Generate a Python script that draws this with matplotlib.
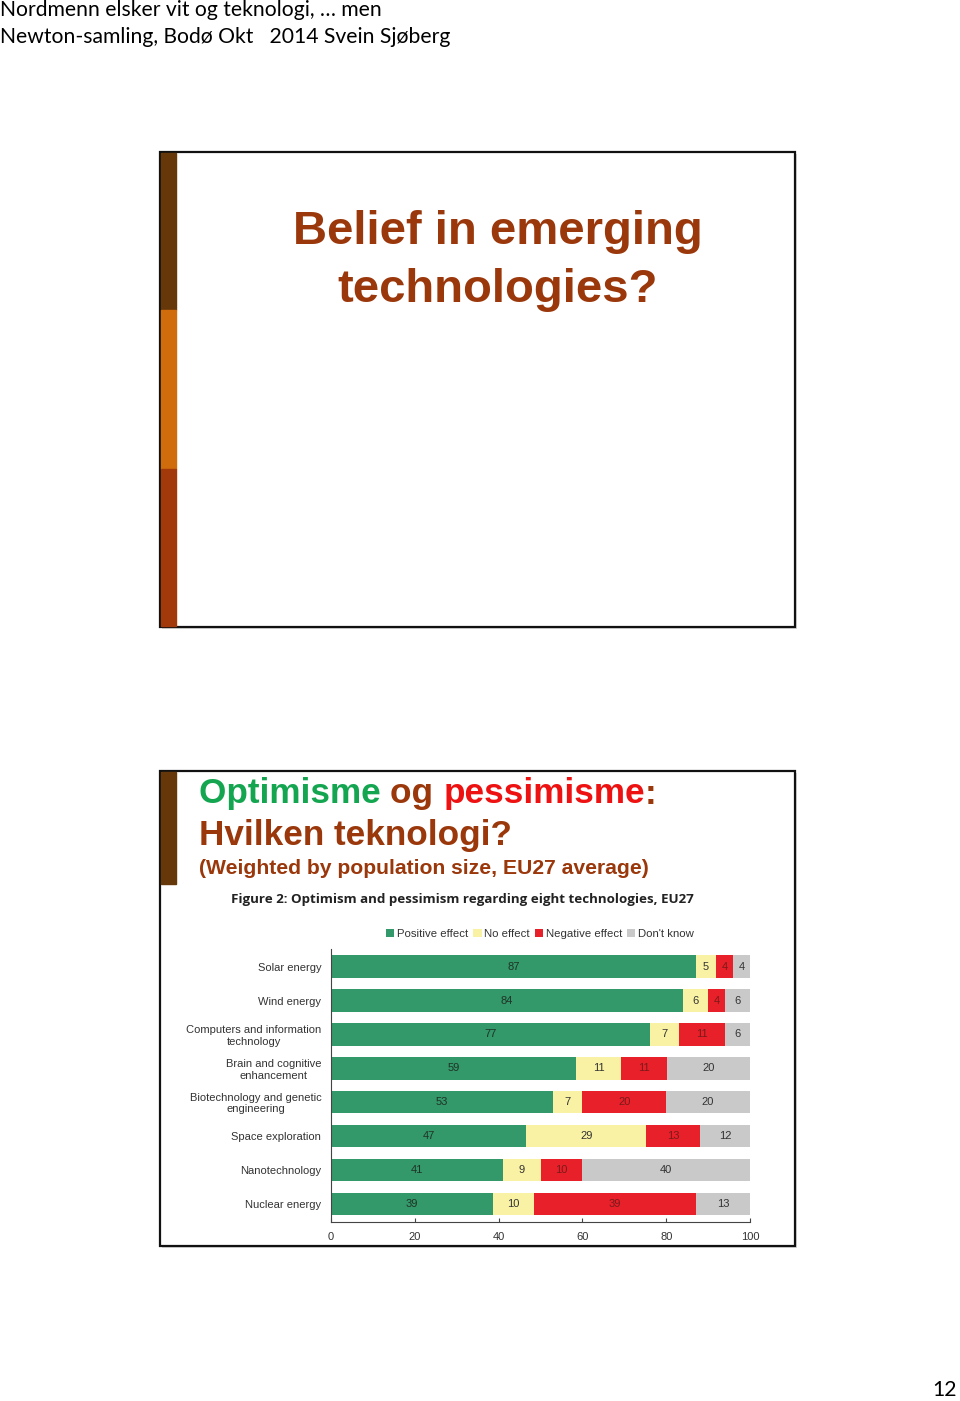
import matplotlib
matplotlib.use("Agg")
import matplotlib.pyplot as plt
from matplotlib.patches import Rectangle, Patch
import numpy as np

# Data
technologies = [
    "Solar energy",
    "Wind energy",
    "Computers and information\ntechnology",
    "Brain and cognitive\nenhancement",
    "Biotechnology and genetic\nengineering",
    "Space exploration",
    "Nanotechnology",
    "Nuclear energy",
]
positive = [87, 84, 77, 59, 53, 47, 41, 39]
no_effect = [5, 6, 7, 11, 7, 29, 9, 10]
negative = [4, 4, 11, 11, 20, 13, 10, 39]
dont_know = [4, 6, 6, 20, 20, 12, 40, 13]
series_names = ["Positive effect", "No effect", "Negative effect", "Don't know"]
x_ticks = [0, 20, 40, 60, 80, 100]

header_lines = ["Nordmenn elsker vit og teknologi, \u2026 men",
                "Newton-samling, Bod\u00f8 Okt   2014 Svein Sj\u00f8berg"]
page_number = "12"

# Colours
GREEN = "#33996a"
YELLOW = "#f9f2a4"
RED = "#e8202a"
GREY = "#c9c9c9"
TITLE_BROWN = "#9a370b"
BAR_DARK = "#653709"
BAR_ORANGE = "#d06c0c"
BAR_RUST = "#a2390b"

W, H = 960, 1401
fig = plt.figure(figsize=(W / 100, H / 100), dpi=100)
fig.patch.set_facecolor("white")

# Page overlay in pixel coordinates
page = fig.add_axes([0, 0, 1, 1])
page.set_xlim(0, W)
page.set_ylim(H, 0)
page.axis("off")

# header text
page.text(0, 10, header_lines[0], fontsize=15.2, family="Lato",
          ha="left", va="center", color="black")
page.text(0, 37, header_lines[1], fontsize=15.2, family="Lato",
          ha="left", va="center", color="black")
page.text(957, 1390, page_number, fontsize=15.2, family="Lato",
          ha="right", va="center", color="black")

# slide frames
for top in (152, 771):
    page.add_patch(Rectangle((162, top + 2), 635, 475, facecolor="#d8d8d8",
                             edgecolor="none", zorder=1))
    page.add_patch(Rectangle((160, top), 635, 475, facecolor="white",
                             edgecolor="#111111", linewidth=1.6, zorder=2))

# slide 1 side bar
page.add_patch(Rectangle((161, 153), 15, 157, color=BAR_DARK, zorder=3))
page.add_patch(Rectangle((161, 310), 15, 159, color=BAR_ORANGE, zorder=3))
page.add_patch(Rectangle((161, 469), 15, 157, color=BAR_RUST, zorder=3))

# slide 2 side bar
page.add_patch(Rectangle((161, 772), 15, 112, color=BAR_DARK, zorder=3))

# slide 1 title
page.text(498, 232, "Belief in emerging", fontsize=34, fontweight="bold",
          family="Liberation Sans", color=TITLE_BROWN, ha="center",
          va="center", zorder=4)
page.text(498, 290, "technologies?", fontsize=34, fontweight="bold",
          family="Liberation Sans", color=TITLE_BROWN, ha="center",
          va="center", zorder=4)

# slide 2 title, multi-coloured first line
renderer = fig.canvas.get_renderer()
x_pos = 199
for word, col in [("Optimisme ", "#14a550"), ("og ", TITLE_BROWN),
                  ("pessimisme", "#ee1111"), (":", TITLE_BROWN)]:
    t = page.text(x_pos, 794, word, fontsize=25.3, fontweight="bold",
                  family="Liberation Sans", color=col, ha="left",
                  va="center", zorder=4)
    bb = t.get_window_extent(renderer=renderer)
    x_pos += bb.width
page.text(199, 836, "Hvilken teknologi?", fontsize=25.3, fontweight="bold",
          family="Liberation Sans", color=TITLE_BROWN, ha="left",
          va="center", zorder=4)
page.text(199, 869, "(Weighted by population size, EU27 average)",
          fontsize=15.2, fontweight="bold", family="Liberation Sans",
          color=TITLE_BROWN, ha="left", va="center", zorder=4)

page.text(231, 900, "Figure 2: Optimism and pessimism regarding eight technologies, EU27",
          fontsize=9.6, fontweight="bold", family="Open Sans",
          color="#222222", ha="left", va="center", zorder=4)

# Bar chart
ax = fig.add_axes([331 / W, 1 - 1222 / H, 419 / W, 273 / H])
ax.set_zorder(5)
ax.patch.set_alpha(0)

values = np.array([positive, no_effect, negative, dont_know], dtype=float)
totals = values.sum(axis=0)
shares = values / totals * 100
colors = [GREEN, YELLOW, RED, GREY]
text_colors = ["#1f3326", "#333333", "#7a1a1a", "#333333"]

y = np.arange(len(technologies))
left = np.zeros(len(technologies))
for i in range(4):
    ax.barh(y, shares[i], left=left, height=0.66, color=colors[i],
            edgecolor="none", label=series_names[i])
    for j in range(len(technologies)):
        ax.text(left[j] + shares[i][j] / 2, y[j], f"{int(values[i][j])}",
                ha="center", va="center", fontsize=8,
                family="Liberation Sans", color=text_colors[i])
    left += shares[i]

ax.set_xlim(0, 100)
ax.set_ylim(len(technologies) - 0.47, -0.52)
ax.set_xticks(x_ticks)
ax.set_xticklabels([str(v) for v in x_ticks], fontsize=8,
                   family="Liberation Sans", color="#333333")
ax.set_yticks(y)
ax.set_yticklabels(technologies, fontsize=8, family="Liberation Sans",
                   color="#333333")
for lbl in ax.get_yticklabels():
    lbl.set_multialignment("center")
    lbl.set_linespacing(1.15)
ax.tick_params(axis="y", length=0, pad=7)
ax.tick_params(axis="x", direction="in", length=3, width=0.8,
               color="#444444", pad=7.5)
for side in ["top", "right"]:
    ax.spines[side].set_visible(False)
for side in ["left", "bottom"]:
    ax.spines[side].set_color("#444444")
    ax.spines[side].set_linewidth(0.8)

handles = [Patch(facecolor=c, edgecolor="none") for c in colors]
fig.legend(handles, series_names, loc="center",
           bbox_to_anchor=(540 / W, 1 - 934 / H), ncol=4, frameon=False,
           prop={"family": "Liberation Sans", "size": 8.2},
           handlelength=0.75, handleheight=0.75, handletextpad=0.25,
           columnspacing=0.4, labelcolor="#333333")

fig.savefig("out.png", dpi=100)
plt.close(fig)
